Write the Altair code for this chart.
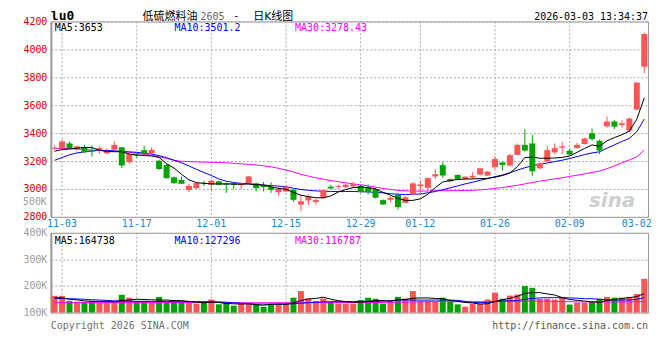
import altair as alt
import pandas as pd

# ---------------- data ----------------
dates = ["10-31",
 "11-03","11-04","11-05","11-06","11-07","11-10","11-11","11-12","11-13","11-14",
 "11-17","11-18","11-19","11-20","11-21","11-24","11-25","11-26","11-27","11-28",
 "12-01","12-02","12-03","12-04","12-05","12-08","12-09","12-10","12-11","12-12",
 "12-15","12-16","12-17","12-18","12-19","12-22","12-23","12-24","12-25","12-26",
 "12-29","12-30","12-31","01-05","01-06","01-07","01-08","01-09",
 "01-12","01-13","01-14","01-15","01-16","01-19","01-20","01-21","01-22","01-23",
 "01-26","01-27","01-28","01-29","01-30","02-02","02-03","02-04","02-05","02-06",
 "02-09","02-10","02-11","02-12","02-13","02-24","02-25","02-26","02-27",
 "03-02","03-03"]

opens = [3288,3290,3326,3282,3298,3275,3276,3256,3282,3298,
         3192,3245,3278,3256,3202,3172,3083,3064,2992,3006,
         3044,3030,3055,3040,3040,3026,3042,3040,3028,3012,
         2977,2982,2993,2888,2918,2906,2936,3016,3014,3014,
         3020,3024,3012,3000,2920,2922,2957,2900,2962,3020,
         3008,3090,3170,3070,3100,3072,3082,3103,3096,3156,
         3190,3168,3244,3316,3326,3148,3196,3262,3296,3274,
         3293,3322,3398,3345,3449,3483,3458,3418,3568,3876]
highs = [3312,3352,3340,3310,3316,3312,3304,3292,3340,3300,
         3275,3252,3310,3298,3210,3175,3090,3090,3036,3048,
         3058,3062,3058,3046,3045,3046,3092,3045,3050,3048,
         3024,3028,3000,2960,2960,2930,2994,3030,3030,3036,
         3052,3030,3032,3010,2925,2950,2970,2950,3048,3060,
         3082,3143,3190,3075,3105,3090,3119,3152,3128,3234,
         3192,3250,3325,3428,3386,3192,3310,3326,3338,3290,
         3330,3366,3433,3353,3519,3495,3492,3512,3765,4120]
lows = [3280,3286,3288,3275,3257,3232,3252,3250,3278,3150,
        3180,3226,3248,3250,3137,3075,3035,3034,2978,3000,
        3020,2982,3027,2972,2996,3000,3040,2982,2982,2972,
        2953,2976,2908,2841,2886,2888,2930,2998,3000,3004,
        3005,2974,2960,2932,2886,2906,2852,2895,2955,2965,
        2990,3072,3080,3050,3062,3068,3070,3098,3092,3142,
        3132,3160,3240,3268,3095,3140,3192,3250,3250,3238,
        3290,3318,3345,3250,3440,3430,3440,3405,3565,3830]
closes = [3296,3340,3290,3305,3262,3268,3292,3272,3316,3168,
          3250,3238,3252,3280,3143,3077,3042,3037,3022,3042,
          3040,3060,3030,3030,3028,3042,3090,3006,3013,2994,
          3000,3017,2922,2912,2945,2920,2992,3004,3020,3030,
          3034,2977,2978,2937,2889,2936,2870,2940,3040,3032,
          3078,3106,3096,3055,3072,3088,3094,3148,3124,3214,
          3172,3242,3316,3275,3126,3184,3278,3292,3306,3246,
          3316,3362,3358,3275,3483,3446,3470,3504,3762,4110]

ma5 = [3270,3282,3286,3292,3298,3296,3278,3268,3267,3266,
       3250,3243,3240,3236,3226,3180,3150,3105,3065,3045,
       3040,3036,3036,3036,3035,3034,3036,3030,3028,3014,
       3004,2998,2975,2955,2945,2937,2936,2950,2978,2996,
       3010,3014,3010,3000,2975,2955,2932,2918,2918,2929,
       2962,3010,3050,3060,3068,3071,3072,3074,3076,3084,
       3096,3114,3160,3225,3228,3220,3220,3222,3226,3236,
       3262,3290,3315,3306,3345,3368,3388,3415,3500,3653]
ma10 = [3205,3225,3245,3258,3266,3272,3277,3276,3272,3268,
        3266,3262,3256,3250,3238,3224,3206,3188,3165,3140,
        3118,3096,3072,3055,3046,3040,3036,3032,3028,3024,
        3020,3016,3005,2996,2990,2986,2984,2982,2982,2982,
        2982,2980,2978,2976,2972,2966,2962,2960,2962,2964,
        2972,2982,2994,3008,3022,3036,3048,3062,3074,3088,
        3100,3116,3134,3152,3166,3176,3186,3196,3206,3218,
        3232,3246,3258,3266,3292,3316,3340,3362,3410,3501]
ma30 = [3290,3290,3289,3287,3283,3278,3275,3274,3272,3268,
        3262,3255,3248,3240,3230,3219,3205,3198,3196,3194,
        3192,3191,3189,3187,3184,3180,3176,3172,3166,3158,
        3148,3136,3122,3104,3092,3080,3070,3060,3052,3044,
        3036,3030,3022,3013,3004,2996,2990,2987,2985,2984,
        2985,2987,2988,2988,2988,2989,2990,2993,2998,3004,
        3010,3018,3026,3036,3046,3056,3064,3072,3080,3090,
        3098,3108,3118,3128,3145,3165,3188,3208,3230,3278]

# volume in thousands (read against the reference's volume axis)
vol_k = [163,163,144,141,141,144,137,141,141,167,
         156,144,144,141,159,141,141,141,141,134,
         137,149,131,137,126,132,132,132,122,134,
         134,134,156,181,153,144,153,141,134,134,
         134,147,156,152,134,144,159,153,181,144,
         144,141,156,141,131,122,132,132,149,175,
         152,164,168,200,193,152,152,149,159,130,
         137,137,141,152,159,156,156,159,170,227]
vma5_k = [156,155,150,148,144,142,142,142,140,146,
          147,150,149,148,147,147,145,145,142,139,
          137,139,138,134,133,132,133,129,128,131,
          132,131,136,145,151,153,158,150,145,141,
          139,139,142,145,145,143,148,149,154,155,
          155,153,152,145,142,138,136,132,133,142,
          148,154,161,172,175,175,170,166,156,149,
          146,143,140,139,145,149,153,156,160,171]
vma10_k = [153,153,152,151,150,148,147,146,144,143,
           143,142,142,142,142,142,141,141,141,141,
           141,141,140,139,137,135,133,132,132,131,
           131,132,133,135,137,139,140,141,141,141,
           141,142,142,142,143,145,147,147,147,147,
           147,147,147,147,146,142,138,137,138,141,
           144,144,145,150,153,155,156,156,156,155,
           154,152,152,150,148,147,147,147,150,156]
vma30_k = [137,137,137,137,138,138,138,138,138,138,
           138,138,138,138,138,138,138,138,138,138,
           138,138,138,137,137,137,137,137,137,137,
           137,137,137,137,138,138,138,138,138,138,
           138,138,138,138,138,139,139,139,140,140,
           141,141,141,141,141,141,141,141,141,141,
           142,142,142,143,143,143,143,142,141,141,
           140,140,140,140,140,140,140,140,141,141]

label_dates = ["11-03","11-17","12-01","12-15","12-29","01-12","01-26","02-09","03-02"]
grid_dates = ["11-03","11-17","12-01","12-15","12-29","01-12","01-26","02-09"]
price_ticks = [2800,3000,3200,3400,3600,3800,4000,4200]
vol_ticks = [100000,200000,300000,400000]

price_ma_labels = ["MA5:3653","MA10:3501.2","MA30:3278.43"]
vol_ma_labels = ["MA5:164738","MA10:127296","MA30:116787"]
symbol = "lu0"
title_parts = ["低硫燃料油", "2605", "-", "日K线图"]
time_text = "2026-03-03 13:34:37"
left_note = "Copyright 2026 SINA.COM"
right_note = "http://finance.sina.com.cn"
extra_vol_label = "500K"
watermark = "sina"

# ---------------- table ----------------
df = pd.DataFrame({
    "idx": list(range(len(dates))),
    "date": dates, "open": opens, "high": highs, "low": lows, "close": closes,
    "ma5": ma5, "ma10": ma10, "ma30": ma30,
    "vol": [v * 1000 for v in vol_k],
    "vma5": [v * 1000 for v in vma5_k],
    "vma10": [v * 1000 for v in vma10_k],
    "vma30": [v * 1000 for v in vma30_k],
})

RED = "#ff5555"
GREEN = "#00a400"
MONO = "DejaVu Sans Mono"
CJK = "DejaVu Sans, Noto Sans CJK SC"
W, HP, HV = 599, 196, 80

updown = alt.condition("datum.close >= datum.open", alt.value(RED), alt.value(GREEN))

xscale = alt.Scale(type="band", domain=dates, paddingInner=0, paddingOuter=0)
xaxis_p = alt.Axis(values=label_dates, title=None, grid=False, ticks=False, domain=False,
                   labelColor="#1588d8", labelFont=MONO, labelFontSize=10, labelPadding=2,
                   labelAngle=0, labelOverlap=False, labelFlush=False)


def xp(field):
    return alt.X(field, type="ordinal", scale=xscale, axis=xaxis_p)


def xv(field):
    return alt.X(field, type="ordinal", scale=xscale, axis=None)


yscale_p = alt.Scale(domain=[2800, 4200], nice=False, zero=False)
yaxis_p = alt.Axis(values=price_ticks, format="d", title=None, ticks=False, domain=True,
                   domainColor="#999999", domainWidth=2, labelColor="#e00000", labelFont=MONO,
                   labelFontSize=10, labelPadding=4, grid=True, gridColor="#aaaaaa",
                   gridDash=[2, 2], minExtent=42, maxExtent=42, labelFlush=False)


def yp(field):
    return alt.Y(field, type="quantitative", scale=yscale_p, axis=yaxis_p)


yscale_v = alt.Scale(domain=[100000, 400000], nice=False, zero=False)
yaxis_v = alt.Axis(values=vol_ticks, labelExpr="datum.value / 1000 + 'K'", title=None, ticks=False,
                   domain=True, domainColor="#999999", domainWidth=2, labelColor="#a0a0a0",
                   labelFont=MONO, labelFontSize=10, labelPadding=4, grid=True, gridColor="#aaaaaa",
                   gridDash=[2, 2], minExtent=42, maxExtent=42, labelFlush=False)


def yv(field):
    return alt.Y(field, type="quantitative", scale=yscale_v, axis=yaxis_v)


def txt(s, x, y, color="black", size=10, align="left", font=MONO, weight="normal",
        baseline="middle", style="normal"):
    return alt.Chart(pd.DataFrame({"t": [s]})).mark_text(
        align=align, baseline=baseline, font=font, fontSize=size, color=color,
        fontWeight=weight, fontStyle=style
    ).encode(x=alt.value(x), y=alt.value(y), text="t:N")


base = alt.Chart(df)

# ---------------- price panel ----------------
grid_v = alt.Chart(pd.DataFrame({"g": grid_dates})).mark_rule(
    color="#aaaaaa", strokeDash=[2, 2], strokeWidth=1).encode(x=xp("g"))
wick = base.mark_rule(strokeWidth=1).encode(x=xp("date"), y=yp("low"), y2=alt.Y2("high"), color=updown)
body = base.mark_bar(size=6).encode(x=xp("date"), y=yp("open"), y2=alt.Y2("close"), color=updown)
l5 = base.mark_line(color="black", strokeWidth=1).encode(x=xp("date"), y=yp("ma5"), order=alt.Order("idx:Q"))
l10 = base.mark_line(color="#0000ff", strokeWidth=1).encode(x=xp("date"), y=yp("ma10"), order=alt.Order("idx:Q"))
l30 = base.mark_line(color="#ff00ff", strokeWidth=1).encode(x=xp("date"), y=yp("ma30"), order=alt.Order("idx:Q"))

HB = -1  # header baseline, just above the price frame
price = alt.layer(
    grid_v, l30, l10, wick, body, l5,
    txt(watermark, 563, 186, color="#cfcfcf", size=20, align="center", font="DejaVu Sans",
        weight="bold", baseline="alphabetic", style="italic"),
    txt(price_ma_labels[0], 4, 7, color="black"),
    txt(price_ma_labels[1], 124, 7, color="#0000ff"),
    txt(price_ma_labels[2], 245, 7, color="#ff00ff"),
    txt(symbol, 0, HB, color="black", size=13, weight="bold", baseline="alphabetic"),
    txt(title_parts[0], 92, HB, color="black", size=11, font=CJK, baseline="alphabetic"),
    txt(title_parts[1], 150, HB, color="#666666", size=10, baseline="alphabetic"),
    txt(title_parts[2], 183, HB - 1, color="black", size=10, baseline="alphabetic"),
    txt(title_parts[3], 203, HB, color="black", size=11, font=CJK, baseline="alphabetic"),
    txt(time_text, W, HB, color="black", size=10, align="right", baseline="alphabetic"),
    txt(extra_vol_label, -4, 181, color="#a0a0a0", size=10, align="right"),
).properties(width=W, height=HP)

# ---------------- volume panel ----------------
grid_vv = alt.Chart(pd.DataFrame({"g": grid_dates})).mark_rule(
    color="#aaaaaa", strokeDash=[2, 2], strokeWidth=1).encode(x=xv("g"))
vbars = base.mark_bar(size=6).encode(x=xv("date"), y=yv("vol"), y2=alt.datum(100000), color=updown)
v5 = base.mark_line(color="black", strokeWidth=1).encode(x=xv("date"), y=yv("vma5"), order=alt.Order("idx:Q"))
v10 = base.mark_line(color="#0000ff", strokeWidth=1).encode(x=xv("date"), y=yv("vma10"), order=alt.Order("idx:Q"))
v30 = base.mark_line(color="#ff00ff", strokeWidth=1).encode(x=xv("date"), y=yv("vma30"), order=alt.Order("idx:Q"))

volume = alt.layer(
    grid_vv, vbars, v30, v10, v5,
    txt(vol_ma_labels[0], 4, 8, color="black"),
    txt(vol_ma_labels[1], 124, 8, color="#0000ff"),
    txt(vol_ma_labels[2], 245, 8, color="#ff00ff"),
    txt(left_note, 0, HV + 13, color="#707070"),
    txt(right_note, W, HV + 13, color="#555555", align="right"),
).properties(width=W, height=HV)

chart = alt.vconcat(price, volume, spacing=16, bounds="flush").properties(
    padding={"left": 0, "top": 1, "right": 0, "bottom": 0},
    background="white",
).configure_view(stroke="#999999", strokeWidth=1)

chart.save("out.html", embed_options={"renderer": "svg", "actions": False})
